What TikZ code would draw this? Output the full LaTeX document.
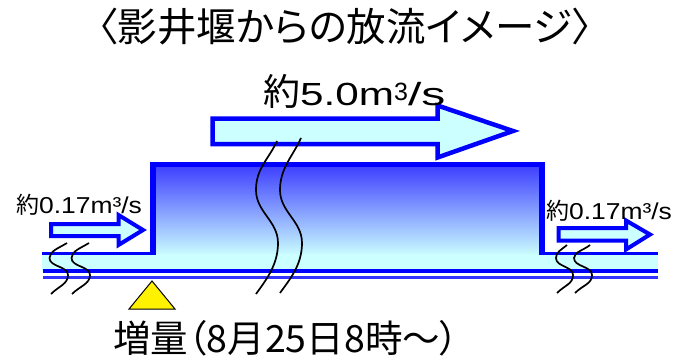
\documentclass[tikz,border=0pt]{standalone}
\usepackage{fontspec}
\setmainfont{Liberation Sans}
\newfontfamily\cjk[RawFeature=+palt]{Noto Sans CJK JP}
\newfontfamily\latw[FakeStretch=1.32]{Liberation Sans}
\newfontfamily\latx[FakeStretch=1.5]{Liberation Sans}
\newfontfamily\lats[FakeStretch=1.15]{Liberation Sans}
\definecolor{rblue}{HTML}{0000FF}
\definecolor{lblue}{HTML}{3333FF}
\definecolor{lcyan}{HTML}{CCFFFF}
\definecolor{gtop}{HTML}{3C3CFF}
\tikzset{
  blockarrow/.style={draw=rblue, fill=lcyan, line width=4.5pt, miter limit=10},
  smallarrow/.style={draw=rblue, fill=lcyan, line width=4pt, miter limit=10},
  brkline/.style={draw=black, line width=1.7pt},
  bankline/.style={draw=rblue, line width=3.5pt},
  weirline/.style={draw=rblue, line width=5.5pt, line join=miter},
}
\begin{document}
\begin{tikzpicture}[x=1pt,y=-1pt]
\useasboundingbox (0,0) rectangle (689,356);

% title
\node[font=\cjk\fontsize{39.5}{42}\selectfont, inner sep=0pt] (title) at (345,27) {〈影井堰からの放流イメージ〉};

% water body
\fill[lcyan] (42,253) rectangle (658,271);
\shade[top color=gtop, bottom color=lcyan] (153,164) rectangle (542,256);
\fill[lcyan] (153,254) rectangle (542,271);

% outline
\draw[bankline] (42,253.5) -- (155,253.5);
\draw[bankline] (540,253.5) -- (658,253.5);
\draw[weirline] (153,255) -- (153,164.5) -- (542,164.5) -- (542,255);
\draw[rblue, line width=3.5pt] (43,271) -- (658,271);
\draw[lblue, line width=3pt] (43,277.5) -- (658,277.5);

% big arrow
\draw[blockarrow] (212.5,118.5) -- (437.5,118.5) -- (437.5,105.5) -- (513,131) -- (437.5,157.5) -- (437.5,144) -- (212.5,144) -- cycle;
\node[anchor=base west, inner sep=0pt] (big) at (263,105) {{\cjk\fontsize{37}{40}\selectfont 約}{\fontsize{32}{36}\selectfont\latw 5.0m\raisebox{5pt}{\fontsize{25}{27}\selectfont\rmfamily 3}\latx /s}};

% small arrows
\draw[smallarrow] (51,224) -- (118.5,224) -- (118.5,215) -- (143,230) -- (118.5,245) -- (118.5,236) -- (51,236) -- cycle;
\draw[smallarrow] (558.5,228) -- (626,228) -- (626,220.5) -- (650,234.5) -- (626,249.5) -- (626,240.5) -- (558.5,240.5) -- cycle;
\node[font=\fontsize{23}{26}\selectfont, anchor=base, inner sep=0pt] (lq) at (79,213) {{\cjk 約}{\lats 0.17m³/s}};
\node[font=\fontsize{23}{26}\selectfont, anchor=base, inner sep=0pt] (rq) at (609,219) {{\cjk 約}{\lats 0.17m³/s}};

% break lines
\draw[brkline] (277,141) .. controls +(-8,18) and +(0,-22) .. (256,190) .. controls +(0,22) and +(0,-22) .. (278,243) .. controls +(0,22) and +(10,-14) .. (256,294);
\draw[brkline] (301,138) .. controls +(-8,18) and +(0,-22) .. (280,190) .. controls +(0,22) and +(0,-22) .. (302,243) .. controls +(0,22) and +(10,-14) .. (280,293);
\draw[brkline] (67,243) .. controls +(-8,5) and +(0,-7) .. (49.5,258) .. controls +(0,9) and +(0,-9) .. (68,275) .. controls +(0,9) and +(8,-8) .. (51,294);
\draw[brkline] (89,243) .. controls +(-8,5) and +(0,-7) .. (71.5,258) .. controls +(0,9) and +(0,-9) .. (90,275) .. controls +(0,9) and +(8,-8) .. (72,294);
\draw[brkline] (567,245) .. controls +(-6,5) and +(0,-6) .. (556,258) .. controls +(0,9) and +(0,-9) .. (573,275) .. controls +(0,9) and +(8,-8) .. (557,293);
\draw[brkline] (590,245) .. controls +(-6,5) and +(0,-6) .. (574,258) .. controls +(0,9) and +(0,-9) .. (592,275) .. controls +(0,9) and +(8,-8) .. (575,293);

% marker
\draw[fill=yellow, draw=black, line width=1pt] (152,281) -- (175,309) -- (129,309) -- cycle;
\node[font=\cjk\fontsize{37.5}{40}\selectfont, inner sep=0pt] (inc) at (286,338) {増量（8月25日8時～）};
\end{tikzpicture}
\end{document}
